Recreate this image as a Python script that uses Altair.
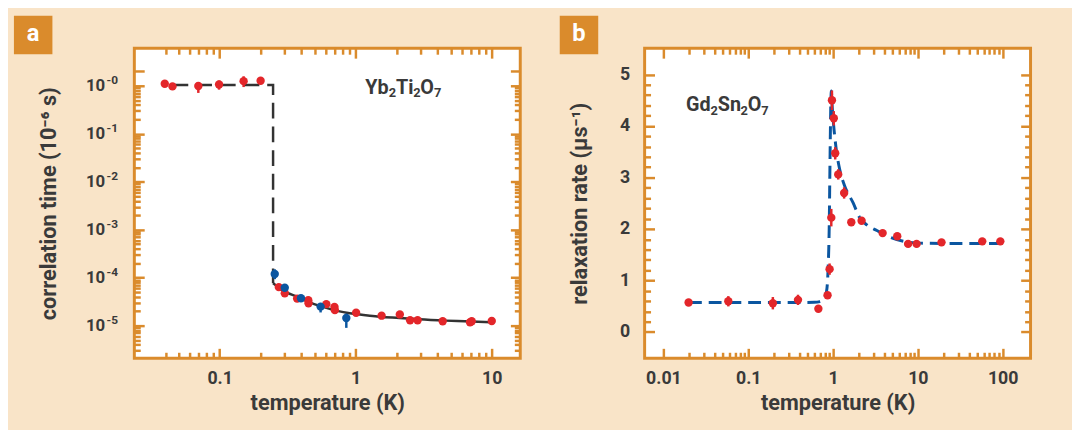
import altair as alt
import pandas as pd

# ---------------- data: panel a (Yb2Ti2O7) ----------------
a_red_T = [0.0395, 0.045, 0.0697, 0.099, 0.150, 0.200, 0.272, 0.301, 0.371, 0.448, 0.450,
           0.608, 0.698, 0.703, 1.007, 1.55, 2.11, 2.51, 2.85, 4.36, 6.92, 7.12, 10.0]
a_red_tau = [1.10, 0.97, 0.99, 1.06, 1.25, 1.27, 6.34e-5, 4.71e-5, 3.65e-5, 3.38e-5, 2.93e-5,
             2.80e-5, 2.46e-5, 2.10e-5, 1.85e-5, 1.61e-5, 1.71e-5, 1.29e-5, 1.29e-5, 1.23e-5,
             1.17e-5, 1.23e-5, 1.25e-5]
a_red_lo = [1.10, 0.97, 0.71, 0.83, 0.94, 1.20, 6.34e-5, 4.71e-5, 3.65e-5, 3.38e-5, 2.93e-5,
            2.80e-5, 2.46e-5, 2.10e-5, 1.85e-5, 1.61e-5, 1.71e-5, 1.29e-5, 1.29e-5, 1.23e-5,
            1.17e-5, 1.23e-5, 1.25e-5]
a_red_hi = [1.10, 0.97, 1.15, 1.29, 1.58, 1.36, 6.34e-5, 4.71e-5, 3.65e-5, 3.38e-5, 2.93e-5,
            2.80e-5, 2.46e-5, 2.10e-5, 1.85e-5, 1.61e-5, 1.71e-5, 1.29e-5, 1.29e-5, 1.23e-5,
            1.17e-5, 1.23e-5, 1.25e-5]
a_blue_T = [0.254, 0.301, 0.396, 0.552, 0.853]
a_blue_tau = [1.19e-4, 6.14e-5, 3.72e-5, 2.49e-5, 1.44e-5]
a_blue_lo = [9.3e-5, 5.6e-5, 3.5e-5, 1.88e-5, 8.97e-6]
a_blue_hi = [1.49e-4, 6.7e-5, 3.9e-5, 2.7e-5, 1.77e-5]
a_dash_T = [0.045, 0.247, 0.247]
a_dash_tau = [1.04, 1.04, 7.6e-5]
a_fit_T = [0.247, 0.26, 0.272, 0.301, 0.375, 0.495, 0.653, 0.86, 1.01, 1.5, 2.1, 2.92, 4.57, 7.1, 9.9]
a_fit_tau = [7.6e-5, 6.8e-5, 6.1e-5, 5.1e-5, 3.95e-5, 2.8e-5, 2.21e-5, 1.85e-5, 1.74e-5, 1.53e-5,
             1.44e-5, 1.35e-5, 1.27e-5, 1.22e-5, 1.17e-5]
a_x_major = [0.1, 1, 10]
a_x_minor = [0.04, 0.05, 0.06, 0.07, 0.08, 0.09, 0.2, 0.3, 0.4, 0.5, 0.6, 0.7, 0.8, 0.9,
             2, 3, 4, 5, 6, 7, 8, 9]
a_y_major = [1, 1e-1, 1e-2, 1e-3, 1e-4, 1e-5]
a_y_extra_major = [2.0]
a_y_base = "10"
a_y_exp = ["-0", "-1", "-2", "-3", "-4", "-5"]
a_y_minor = [m * 10.0 ** e for e in range(-6, 0) for m in range(2, 10)]
a_formula = [("Yb", False), ("2", True), ("Ti", False), ("2", True), ("O", False), ("7", True)]

# ---------------- data: panel b (Gd2Sn2O7) ----------------
b_T = [0.0198, 0.0582, 0.195, 0.386, 0.671, 0.861, 0.91, 0.953, 0.97, 1.02, 1.06, 1.15, 1.35,
       1.64, 2.17, 3.84, 5.71, 7.67, 9.66, 19.0, 57.4, 93.8]
b_rate = [0.571, 0.596, 0.558, 0.623, 0.45, 0.712, 1.22, 2.22, 4.50, 4.15, 3.47, 3.06, 2.70,
          2.13, 2.16, 1.92, 1.86, 1.71, 1.71, 1.74, 1.76, 1.76]
b_err = [0, 0.1, 0.12, 0.1, 0, 0, 0.11, 0.17, 0.19, 0.14, 0.12, 0.1, 0.11,
         0, 0, 0.05, 0, 0, 0, 0, 0, 0]
b_fit_T = [0.02, 0.1, 0.3, 0.6, 0.7, 0.785, 0.84, 0.875, 0.90, 0.92, 0.94, 0.955, 0.975, 1.0,
           1.08, 1.2, 1.36, 1.72, 2.06, 2.5, 3.28, 4.73, 6.87, 10.8, 20, 50, 100]
b_fit = [0.57, 0.57, 0.57, 0.575, 0.59, 0.65, 0.8, 1.25, 2.0, 3.3, 4.4, 4.68, 4.4, 4.15,
         3.6, 3.15, 2.85, 2.51, 2.22, 2.08, 1.97, 1.84, 1.76, 1.725, 1.72, 1.72, 1.72]
b_x_major = [0.01, 0.1, 1, 10, 100]
b_x_minor = [m * 10.0 ** e for e in range(-2, 2) for m in range(2, 10)]
b_y_major = [0, 1, 2, 3, 4, 5]
b_y_minor = [round(i * 0.2, 1) for i in range(1, 25) if i % 5 != 0]
b_formula = [("Gd", False), ("2", True), ("Sn", False), ("2", True), ("O", False), ("7", True)]

# ---------------- style ----------------
BEIGE = "#F9E4C8"
ORANGE = "#DA8B2C"
RED = "#E3262A"
BLUE = "#0B56A0"
DARK = "#333333"
TEXT = "#3A3A3A"
FONT = "Roboto"
W, H = 391, 314
MAJ, MIN = 10, 6

# approximate Roboto Bold advance widths (em) used to place formula pieces
ADV = {"Y": 0.63, "b": 0.56, "T": 0.61, "i": 0.26, "O": 0.685, "G": 0.678, "d": 0.561,
       "S": 0.604, "n": 0.546}


def ax(orient, values, size, **kw):
    base = dict(orient=orient, values=values, tickSize=size, offset=-size, domain=False,
                grid=False, tickColor=ORANGE, tickWidth=2.5, labels=False, title=None)
    base.update(kw)
    return alt.Axis(**base)


def lab(**kw):
    base = dict(labels=True, labelFont=FONT, labelFontWeight="bold", labelFontSize=18,
                labelColor=TEXT, titleFont=FONT, titleFontWeight="bold", titleFontSize=22,
                titleColor=TEXT)
    base.update(kw)
    return base


def corner_box(letter, x0):
    df = pd.DataFrame({"t": [letter]})
    box = alt.Chart(df).mark_rect(color=ORANGE).encode(
        x=alt.value(x0), x2=alt.value(x0 + 39), y=alt.value(-33), y2=alt.value(6))
    txt = alt.Chart(df).mark_text(font=FONT, fontWeight="bold", fontSize=24, color="white",
                                  baseline="middle", align="center").encode(
        text="t:N", x=alt.value(x0 + 19.5), y=alt.value(-14))
    return box + txt


def formula(parts, x0, ybase, big=20, small=13):
    rows_main, rows_sub = [], []
    x = x0
    for s, sub in parts:
        if sub:
            rows_sub.append({"t": s, "px": x})
            x += 0.5615 * small * len(s)
        else:
            rows_main.append({"t": s, "px": x})
            x += sum(ADV.get(ch, 0.6) for ch in s) * big
    main = alt.Chart(pd.DataFrame(rows_main)).mark_text(
        font=FONT, fontWeight="bold", fontSize=big, color=TEXT, align="left",
        baseline="alphabetic").encode(text="t:N", x=alt.X("px:Q", scale=None), y=alt.value(ybase))
    subs = alt.Chart(pd.DataFrame(rows_sub)).mark_text(
        font=FONT, fontWeight="bold", fontSize=small, color=TEXT, align="left",
        baseline="alphabetic").encode(text="t:N", x=alt.X("px:Q", scale=None),
                                      y=alt.value(ybase + 3.5))
    return main + subs


# ---------- panel a ----------
ax_scale = alt.Scale(type="log", domain=[0.0236, 16.2], nice=False)
ay_scale = alt.Scale(type="log", domain=[2.09e-6, 6.05], nice=False)
exp_expr = "[%s][round(-log(datum.value)/LN10)]" % ",".join("'%s'" % s for s in a_y_exp)

a_pts = pd.DataFrame({
    "T": a_red_T + a_blue_T,
    "tau": a_red_tau + a_blue_tau,
    "lo": a_red_lo + a_blue_lo,
    "hi": a_red_hi + a_blue_hi,
    "c": ["red"] * len(a_red_T) + ["blue"] * len(a_blue_T),
})
a_dash = pd.DataFrame({"T": a_dash_T, "tau": a_dash_tau, "i": list(range(len(a_dash_T)))})
a_fit = pd.DataFrame({"T": a_fit_T, "tau": a_fit_tau})
cscale = alt.Scale(domain=["red", "blue"], range=[RED, BLUE])

a1 = alt.Chart(a_dash).mark_line(color=DARK, strokeWidth=2.5, strokeDash=[16, 8]).encode(
    x=alt.X("T:Q", scale=ax_scale,
            axis=ax("bottom", a_x_major, MAJ, **lab(format="~g", labelPadding=12,
                                                   title="temperature (K)", titlePadding=5))),
    y=alt.Y("tau:Q", scale=ay_scale,
            axis=ax("left", a_y_major + a_y_extra_major, MAJ,
                    **lab(labelExpr="datum.value > 1.5 ? '' : '%s'" % a_y_base,
                          labelPadding=30, labelFontSize=17,
                          title="correlation time (10⁻⁶ s)", titlePadding=25))),
    order="i:O")
a2 = alt.Chart(a_fit).mark_line(color=DARK, strokeWidth=2.5, interpolate="monotone").encode(
    x=alt.X("T:Q", scale=ax_scale, axis=ax("bottom", a_x_minor, MIN)),
    y=alt.Y("tau:Q", scale=ay_scale, axis=ax("left", a_y_minor, MIN)))
a3 = alt.Chart(a_pts).mark_rule(strokeWidth=2.5).encode(
    x=alt.X("T:Q", scale=ax_scale, axis=ax("top", a_x_major, MAJ)),
    y=alt.Y("lo:Q", scale=ay_scale, axis=ax("right", a_y_major + a_y_extra_major, MAJ)),
    y2="hi:Q",
    color=alt.Color("c:N", scale=cscale, legend=None))
a4 = alt.Chart(a_pts).mark_circle(size=72, opacity=1).encode(
    x=alt.X("T:Q", scale=ax_scale, axis=ax("top", a_x_minor, MIN)),
    y=alt.Y("tau:Q", scale=ay_scale, axis=ax("right", a_y_minor, MIN)),
    color=alt.Color("c:N", scale=cscale, legend=None))
a5 = alt.Chart(a_pts).mark_circle(opacity=0).encode(
    x=alt.X("T:Q", scale=ax_scale, axis=None),
    y=alt.Y("tau:Q", scale=ay_scale,
            axis=ax("left", a_y_major, MAJ, tickOpacity=0,
                    **lab(labelExpr=exp_expr, labelPadding=17, labelFontSize=12,
                          labelOffset=-6, title=None))))

panel_a = alt.layer(a5, a1, a2, a3, a4, formula(a_formula, 234, 46),
                    corner_box("a", -122)).resolve_axis(
    x="independent", y="independent").properties(width=W, height=H)

# ---------- panel b ----------
bx_scale = alt.Scale(type="log", domain=[0.0060, 213], nice=False)
by_scale = alt.Scale(domain=[-0.51, 5.51], nice=False, zero=False)
b_pts = pd.DataFrame({
    "T": b_T, "r": b_rate,
    "lo": [v - e for v, e in zip(b_rate, b_err)],
    "hi": [v + e for v, e in zip(b_rate, b_err)],
})
b_fitdf = pd.DataFrame({"T": b_fit_T, "r": b_fit})

b1 = alt.Chart(b_fitdf).mark_line(color=BLUE, strokeWidth=3, strokeDash=[13, 7],
                                  interpolate="monotone").encode(
    x=alt.X("T:Q", scale=bx_scale,
            axis=ax("bottom", b_x_major, MAJ, **lab(format="~g", labelPadding=12,
                                                   title="temperature (K)", titlePadding=5))),
    y=alt.Y("r:Q", scale=by_scale,
            axis=ax("left", b_y_major, MAJ, **lab(format="d", labelPadding=15,
                                                 title="relaxation rate (µs⁻¹)",
                                                 titlePadding=29))))
b2 = alt.Chart(b_pts).mark_rule(color=RED, strokeWidth=2.5).encode(
    x=alt.X("T:Q", scale=bx_scale, axis=ax("bottom", b_x_minor, MIN)),
    y=alt.Y("lo:Q", scale=by_scale, axis=ax("left", b_y_minor, MIN)),
    y2="hi:Q")
b3 = alt.Chart(b_pts).mark_circle(color=RED, size=72, opacity=1).encode(
    x=alt.X("T:Q", scale=bx_scale, axis=ax("top", b_x_major, MAJ)),
    y=alt.Y("r:Q", scale=by_scale, axis=ax("right", b_y_major, MAJ)))
b4 = alt.Chart(b_pts).mark_circle(opacity=0).encode(
    x=alt.X("T:Q", scale=bx_scale, axis=ax("top", b_x_minor, MIN)),
    y=alt.Y("r:Q", scale=by_scale, axis=ax("right", b_y_minor, MIN)))

panel_b = alt.layer(b4, b1, b2, b3, formula(b_formula, 42, 64),
                    corner_box("b", -86)).resolve_axis(
    x="independent", y="independent").properties(width=W, height=H)

chart = alt.hconcat(panel_a, panel_b, spacing=35).properties(
    background=BEIGE,
    padding={"left": 4, "top": 3, "right": 39, "bottom": 17},
).configure_view(fill="white", stroke=ORANGE, strokeWidth=3)

chart.save("out.html", embed_options={"renderer": "svg", "actions": False})
